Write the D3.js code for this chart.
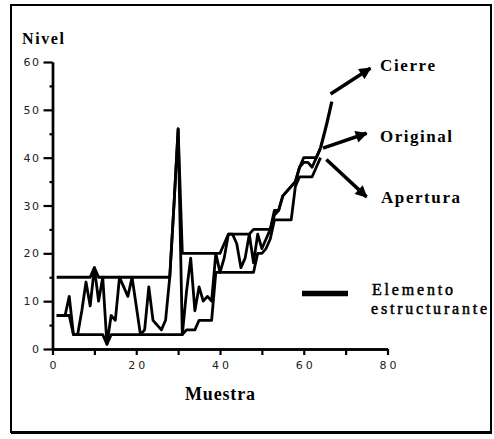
<!DOCTYPE html>
<html><head><meta charset="utf-8">
<script src="https://cdn.jsdelivr.net/npm/d3@7"></script>
<style>body{margin:0;background:#fff} svg{display:block}</style>
</head><body>
<script>
// ---- data ----
const muestra = [1,2,3,4,5,6,7,8,9,10,11,12,13,14,15,16,17,18,19,20,21,22,23,24,25,26,27,28,29,30,31,32,
  33,34,35,36,37,38,39,40,41,42,43,44,45,46,47,48,49,50,51,52,53,54,55,56,57,58,59,60,61,62,63,64];
const original = [7,7,7,11,3,3,8,14,9,17,10,15,1,7,6,15,13,11,15,9,3,4,13,6,5,4,6,15,30,46,3,12,
  19,8,13,10,11,10,20,16,19,24,24,22,17,19,24,18,24,21,23,25,28,29,32,33,34,35,38,39,39,38,40,42];
const cierre = [15,15,15,15,15,15,15,15,15,17,15,15,15,15,15,15,15,15,15,15,15,15,15,15,15,15,15,15,30,46,20,20,
  20,20,20,20,20,20,20,20,22,24,24,24,24,24,24,25,25,25,25,25,29,29,32,33,34,35,38,40,40,40,40,42];
const apertura = [7,7,7,7,3,3,3,3,3,3,3,3,1,3,3,3,3,3,3,3,3,3,3,3,3,3,3,3,3,3,3,4,
  4,4,6,6,6,6,16,16,16,16,16,16,16,16,16,16,20,20,21,23,27,27,27,27,27,34,36,36,36,36,38,40];
const xTicks = [0,20,40,60,80];
const xMinor = [10,30,50,70];
const yTicks = [0,10,20,30,40,50,60];
const yMinor = [5,15,25,35,45,55];
// annotation leaders in data units
const cierreLeader = [[64,42],[65.6,47.5],[66.7,51.7]];
const arrows = [
  {name:"Cierre",   from:[66.4,53.3], to:[75.9,58.7]},
  {name:"Original", from:[64.6,42.0], to:[75.0,45.1]},
  {name:"Apertura", from:[65.4,39.6], to:[75.0,31.8]}
];

const W = 494, H = 439;
const svg = d3.select("body").append("svg").attr("width", W).attr("height", H);
const x = d3.scaleLinear().domain([0, 80]).range([52.5, 387.5]);
const y = d3.scaleLinear().domain([0, 60]).range([349, 62]);

// frame
svg.append("rect").attr("x", 11).attr("y", 5).attr("width", 480).attr("height", 427)
  .attr("fill", "none").attr("stroke", "#000").attr("stroke-width", 2);
svg.append("line").attr("x1", 11).attr("x2", 492).attr("y1", 432.5).attr("y2", 432.5)
  .attr("stroke", "#000").attr("stroke-width", 3);

// axes
const gy = svg.append("g").attr("transform", `translate(${x(0)},0)`)
  .call(d3.axisLeft(y).tickValues(yTicks).tickSize(9).tickSizeOuter(0).tickPadding(3).tickFormat(d3.format("d")));
const gy2 = svg.append("g").attr("transform", `translate(${x(0)},0)`)
  .call(d3.axisLeft(y).tickValues(yMinor).tickSize(3).tickSizeOuter(0).tickFormat(""));
const gx = svg.append("g").attr("transform", `translate(0,${y(0)})`)
  .call(d3.axisBottom(x).tickValues(xTicks).tickSize(6).tickSizeOuter(0).tickPadding(6).tickFormat(d3.format("d")));
const gx2 = svg.append("g").attr("transform", `translate(0,${y(0)})`)
  .call(d3.axisBottom(x).tickValues(xMinor).tickSize(6).tickSizeOuter(0).tickFormat(""));
[gy, gy2, gx, gx2].forEach(g => {
  g.selectAll("path").attr("stroke", "#000").attr("stroke-width", 2.4);
  g.selectAll("line").attr("stroke", "#000").attr("stroke-width", 2.2);
  g.selectAll("text").attr("font-family", "DejaVu Sans, sans-serif").attr("font-size", 11)
    .attr("fill", "#222");
});
gy.selectAll("text").attr("letter-spacing", 1.5);
gx.selectAll("text").attr("letter-spacing", 3).attr("dx", 1.5);

// series
const line = d3.line().x((d, i) => x(muestra[i])).y(d => y(d));
[cierre, apertura, original].forEach(s => {
  svg.append("path").datum(s).attr("d", line).attr("fill", "none")
    .attr("stroke", "#000").attr("stroke-width", 2.8).attr("stroke-linejoin", "round");
});

// arrow marker
svg.append("defs").append("marker").attr("id", "ah")
  .attr("viewBox", "0 0 10 10").attr("refX", 9).attr("refY", 5)
  .attr("markerUnits", "userSpaceOnUse").attr("markerWidth", 15).attr("markerHeight", 12)
  .attr("orient", "auto")
  .append("path").attr("d", "M0,0 L10,5 L0,10 z").attr("fill", "#000");

svg.append("path").datum(cierreLeader)
  .attr("d", d3.line().x(d => x(d[0])).y(d => y(d[1])).curve(d3.curveCatmullRom))
  .attr("fill", "none").attr("stroke", "#000").attr("stroke-width", 3.2);
arrows.forEach(a => {
  svg.append("line").attr("x1", x(a.from[0])).attr("y1", y(a.from[1]))
    .attr("x2", x(a.to[0])).attr("y2", y(a.to[1]))
    .attr("stroke", "#000").attr("stroke-width", 3.5).attr("marker-end", "url(#ah)");
});

// texts
function txt(s, tx, ty, size, weight, len) {
  const t = svg.append("text").attr("x", tx).attr("y", ty).text(s)
    .attr("font-family", "Liberation Serif, Times New Roman, serif")
    .attr("font-size", size).attr("font-weight", weight).attr("fill", "#000");
  if (len) t.attr("textLength", len).attr("lengthAdjust", "spacing");
  return t;
}
txt("Nivel", 22, 44, 16, "bold", 42);
txt("Muestra", 185, 399.5, 18, "bold", 70);
txt("Cierre", 380, 71, 17, "bold", 55);
txt("Original", 380, 141.5, 17, "bold", 72);
txt("Apertura", 381, 202.5, 17, "bold", 79);
txt("Elemento", 372, 295, 16, "normal", 81).attr("stroke", "#000").attr("stroke-width", 0.5);
txt("estructurante", 371, 314, 16, "normal", 116).attr("stroke", "#000").attr("stroke-width", 0.5);

// legend line (elemento estructurante)
svg.append("line").attr("x1", 302).attr("x2", 348).attr("y1", 293.5).attr("y2", 293.5)
  .attr("stroke", "#000").attr("stroke-width", 5.5);
</script>
</body></html>
